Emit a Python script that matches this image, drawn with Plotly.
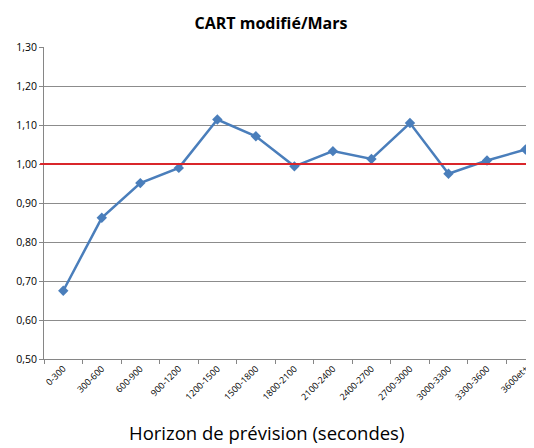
import plotly.graph_objects as go

# Data
horizons = ['0-300', '300-600', '600-900', '900-1200', '1200-1500', '1500-1800',
            '1800-2100', '2100-2400', '2400-2700', '2700-3000', '3000-3300',
            '3300-3600', '3600et+']
ratio = [0.675, 0.862, 0.951, 0.990, 1.114, 1.071,
         0.994, 1.033, 1.013, 1.105, 0.975, 1.009, 1.037]
reference = 1.0

fig = go.Figure()

fig.add_trace(go.Scatter(
    x=horizons,
    y=ratio,
    mode='lines+markers',
    line=dict(color='#4A7EBB', width=2.5),
    marker=dict(symbol='diamond', size=8, color='#4A7EBB'),
    showlegend=False,
))

# Reference line at 1
fig.add_shape(type='line', xref='paper', x0=-0.008, x1=1, yref='y',
              y0=reference, y1=reference,
              line=dict(color='#D9262B', width=2.2), layer='above')

# x axis title is centred on the whole chart, not the plot area
fig.add_annotation(text='Horizon de prévision (secondes)',
                   xref='paper', yref='paper', x=0.455, y=0,
                   xanchor='center', yanchor='middle', yshift=-73,
                   showarrow=False, font=dict(size=18.5))

# page body adds an 8px offset, so the figure is a bit smaller than the window
fig.update_layout(
    title=dict(text='<b>CART modifié/Mars</b>', x=0.5, xanchor='center',
               y=0.964, yanchor='middle',
               font=dict(family='Open Sans', size=16, color='#000000')),
    width=526,
    height=440,
    margin=dict(l=36, r=0, t=39, b=89),
    plot_bgcolor='white',
    paper_bgcolor='white',
    separators=', ',
    font=dict(family='Open Sans', color='#000000'),
)

fig.update_xaxes(
    type='category',
    range=[-0.5, 12.22],
    tickson='boundaries',
    ticks='outside',
    ticklen=4,
    tickcolor='#868686',
    tickangle=-45,
    tickfont=dict(size=9),
    showgrid=False,
    showline=True,
    linecolor='#868686',
    linewidth=1,
)

fig.update_yaxes(
    range=[0.5, 1.3],
    dtick=0.1,
    tickformat='.2f',
    ticks='outside',
    ticklen=4,
    tickcolor='#868686',
    tickfont=dict(size=10.5),
    showgrid=True,
    gridcolor='#8C8C8C',
    gridwidth=1,
    showline=True,
    linecolor='#868686',
    linewidth=1,
    zeroline=False,
)

fig.write_html('out.html')
